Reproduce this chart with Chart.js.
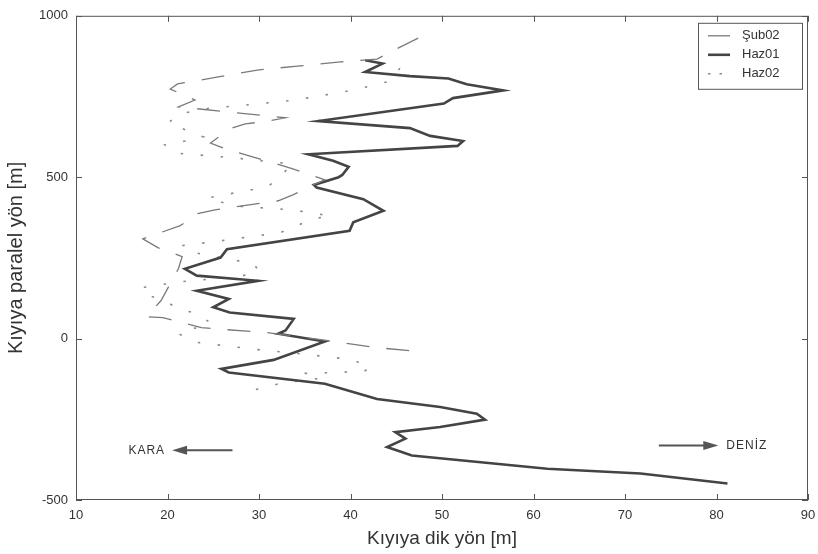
<!DOCTYPE html>
<html>
<head>
<meta charset="utf-8">
<script src="https://cdn.jsdelivr.net/npm/chart.js@4/dist/chart.umd.min.js"></script>
<style>
  html, body { margin: 0; background: #fff; }
</style>
</head>
<body>
<canvas id="chart" width="818" height="554"></canvas>
<script>
// cross-shore distance (x) vs along-shore distance (y)
const sub02X = [47.4, 45.2, 42.9, 38.9, 34.2, 29.8, 25.4, 21.1, 20.3, 23.0, 21.2, 32.9, 31.0, 28.5, 26.8, 24.7, 26.6, 30.8, 33.7, 37.2, 35.9, 33.7, 32.1, 25.2, 23.3, 21.4, 17.3, 19.0, 21.6, 21.2, 19.3, 17.7, 19.5, 23.7, 26.3, 30.7, 35.9, 42.9, 47.4];
const sub02Y = [931, 900, 866, 857, 844, 832, 810, 789, 773, 739, 718, 684, 674, 665, 650, 606, 585, 551, 526, 492, 476, 445, 427, 399, 387, 350, 309, 281, 254, 217, 118, 68, 65, 34, 28, 19, 0, -28, -40];

const haz01X = [41.6, 43.5, 41.6, 46.5, 50.7, 52.7, 56.7, 51.2, 50.2, 36.5, 46.5, 48.7, 52.3, 51.7, 35.4, 38.1, 39.8, 39.1, 38.7, 36.0, 36.3, 41.4, 43.6, 40.3, 39.9, 26.5, 25.8, 21.9, 23.2, 29.9, 23.2, 26.7, 25.0, 26.8, 33.8, 32.9, 32.1, 37.2, 31.6, 25.9, 26.7, 37.2, 42.9, 49.8, 53.8, 54.7, 49.8, 44.9, 46.0, 44.0, 46.7, 61.5, 71.7, 81.2];
const haz01Y = [862, 852, 826, 813, 806, 788, 769, 745, 728, 674, 652, 628, 612, 597, 571, 551, 532, 507, 500, 476, 468, 432, 396, 360, 334, 277, 251, 216, 195, 179, 148, 123, 97, 81, 61, 25, 15, -9, -66, -94, -105, -140, -187, -212, -233, -251, -274, -290, -310, -336, -362, -403, -418, -449];

const haz02X = [45.4, 44.4, 40.3, 34.0, 27.6, 24.7, 21.2, 20.1, 23.9, 21.9, 19.7, 20.8, 27.2, 33.6, 32.2, 30.9, 24.4, 27.2, 33.6, 37.8, 35.9, 32.3, 25.8, 21.6, 23.0, 29.4, 30.0, 27.9, 21.4, 17.2, 17.3, 19.4, 21.2, 23.2, 24.7, 21.2, 23.3, 29.8, 34.2, 40.2, 42.2, 41.4, 34.8, 36.4, 32.3, 28.8];
const haz02Y = [838, 798, 770, 739, 721, 714, 696, 668, 625, 612, 600, 575, 560, 541, 498, 470, 436, 411, 399, 380, 371, 328, 303, 288, 266, 232, 210, 192, 176, 158, 139, 121, 93, 77, 49, 15, -12, -34, -46, -65, -90, -102, -108, -124, -139, -164];

const seriesNames = ["Şub02", "Haz01", "Haz02"];
const xTitle = "Kıyıya dik yön [m]";
const yTitle = "Kıyıya paralel yön [m]";

// direction notes: [label, arrow tail x, arrow head x, y]
const notes = [
  ["KARA", 27.1, 20.5, -346],
  ["DENİZ", 73.7, 80.2, -331]
];

const FONT = "'Liberation Sans', Arial, sans-serif";
const pts = (xs, ys) => xs.map((x, i) => ({ x: x, y: ys[i] }));

const framePlugin = {
  id: "frame",
  afterDraw(chart) {
    const { ctx, chartArea: a, scales: { x, y } } = chart;
    ctx.save();
    ctx.strokeStyle = "#555";
    ctx.lineWidth = 1;
    ctx.strokeRect(a.left + 0.5, a.top + 0.5, a.width - 1, a.height - 1);
    // inward tick marks on all four sides
    ctx.beginPath();
    x.ticks.forEach(t => {
      const px = Math.round(x.getPixelForValue(t.value)) + 0.5;
      ctx.moveTo(px, a.bottom); ctx.lineTo(px, a.bottom - 6);
      ctx.moveTo(px, a.top); ctx.lineTo(px, a.top + 6);
    });
    y.ticks.forEach(t => {
      const py = Math.round(y.getPixelForValue(t.value)) + 0.5;
      ctx.moveTo(a.left, py); ctx.lineTo(a.left + 6, py);
      ctx.moveTo(a.right, py); ctx.lineTo(a.right - 6, py);
    });
    ctx.stroke();

    // legend box, top right inside the plot
    const bx = a.right - 110, by = a.top + 7, bw = 104, bh = 66;
    ctx.fillStyle = "#fff";
    ctx.fillRect(bx, by, bw, bh);
    ctx.strokeRect(bx + 0.5, by + 0.5, bw, bh);
    ctx.font = "13px " + FONT;
    ctx.textBaseline = "middle";
    chart.data.datasets.forEach((ds, i) => {
      const ry = by + 13 + i * 19;
      ctx.strokeStyle = ds.borderColor;
      ctx.lineWidth = ds.borderWidth;
      ctx.setLineDash(i === 2 ? [2.5, 9] : []);
      ctx.beginPath();
      ctx.moveTo(bx + 10, ry); ctx.lineTo(bx + 32, ry);
      ctx.stroke();
      ctx.setLineDash([]);
      ctx.fillStyle = "#333";
      ctx.fillText(ds.label, bx + 44, ry);
    });

    // KARA / DENİZ arrows
    ctx.strokeStyle = "#555";
    ctx.fillStyle = "#555";
    ctx.lineWidth = 2;
    notes.forEach(([label, x0, x1, yv]) => {
      const p0 = x.getPixelForValue(x0), p1 = x.getPixelForValue(x1), py = y.getPixelForValue(yv);
      const dir = Math.sign(p1 - p0);
      ctx.beginPath();
      ctx.moveTo(p0, py); ctx.lineTo(p1 - dir * 12, py);
      ctx.stroke();
      ctx.beginPath();
      ctx.moveTo(p1, py);
      ctx.lineTo(p1 - dir * 15, py - 4.5);
      ctx.lineTo(p1 - dir * 15, py + 4.5);
      ctx.closePath();
      ctx.fill();
      ctx.fillStyle = "#333";
      ctx.font = "12px " + FONT;
      ctx.textAlign = dir < 0 ? "right" : "left";
      ctx.fillText(label.split("").join(String.fromCharCode(8202)), p1 + dir * 8, py);
      ctx.fillStyle = "#555";
    });
    ctx.restore();
  }
};

new Chart(document.getElementById("chart").getContext("2d"), {
  type: "scatter",
  data: {
    datasets: [
      { label: seriesNames[0], data: pts(sub02X, sub02Y), showLine: true, borderColor: "#7a7a7a", borderWidth: 1.3, borderDash: [23, 17], pointRadius: 0, tension: 0 },
      { label: seriesNames[1], data: pts(haz01X, haz01Y), showLine: true, borderColor: "#444", borderWidth: 2.6, pointRadius: 0, tension: 0 },
      { label: seriesNames[2], data: pts(haz02X, haz02Y), showLine: true, borderColor: "#8a8a8a", borderWidth: 1.6, borderDash: [2.5, 17.5], pointRadius: 0, tension: 0 }
    ]
  },
  options: {
    responsive: false,
    animation: false,
    layout: { padding: { top: 15, right: 10, left: 0, bottom: 0 } },
    plugins: { legend: { display: false }, tooltip: { enabled: false } },
    scales: {
      x: {
        type: "linear", min: 10, max: 90,
        ticks: { stepSize: 10, color: "#333", font: { family: FONT, size: 13 }, padding: 8 },
        grid: { display: false, drawTicks: false },
        border: { display: false },
        title: { display: true, text: xTitle, color: "#333", font: { family: FONT, size: 19 }, padding: { top: 0 } },
        afterFit: s => { s.height = 54; s.paddingRight = 0; s.paddingLeft = 0; }
      },
      y: {
        type: "linear", min: -500, max: 1000,
        ticks: { stepSize: 500, color: "#333", font: { family: FONT, size: 13 }, padding: 8, callback: v => String(v) },
        grid: { display: false, drawTicks: false },
        border: { display: false },
        title: { display: true, text: yTitle, color: "#333", font: { family: FONT, size: 20 }, padding: { top: 4, bottom: 4 } },
        afterFit: s => { s.width = 76; }
      }
    }
  },
  plugins: [framePlugin]
});
</script>
</body>
</html>
